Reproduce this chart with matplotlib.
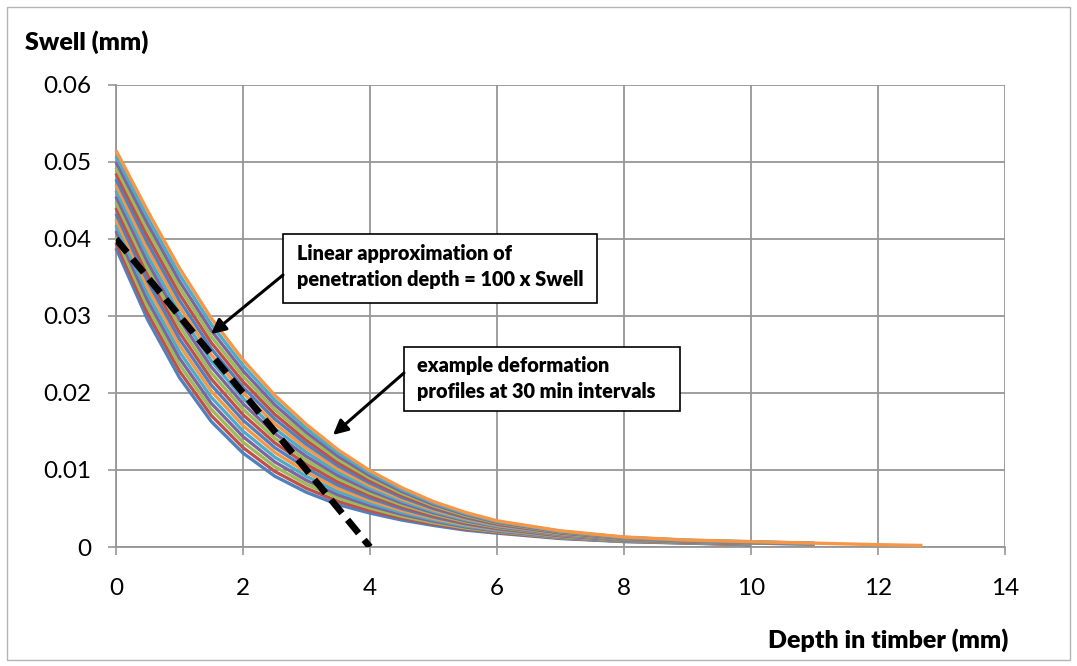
import matplotlib
matplotlib.use("Agg")
import matplotlib.pyplot as plt
from matplotlib.patches import Rectangle

plt.rcParams['font.family'] = ['Lato', 'DejaVu Sans']

# Depth below the surface (mm) at which each profile is sampled
depth = [0, 0.5, 1, 1.5, 2, 2.5, 3, 3.5, 4, 4.5, 5, 5.5, 6, 7, 8, 9, 10, 11, 12, 12.7]

# Swell profiles (mm), one every 30 min
swell_030 = [0.03880, 0.02950, 0.02200, 0.01630, 0.01220, 0.00920, 0.00710, 0.00550, 0.00440, 0.00350, 0.00280, 0.00220, 0.00180, 0.00110, 0.00070, 0.00050, 0.00030]
swell_060 = [0.03955, 0.03033, 0.02284, 0.01709, 0.01291, 0.00982, 0.00762, 0.00592, 0.00472, 0.00375, 0.00298, 0.00234, 0.00189, 0.00116, 0.00074, 0.00052, 0.00032]
swell_090 = [0.04029, 0.03116, 0.02367, 0.01788, 0.01362, 0.01044, 0.00814, 0.00634, 0.00505, 0.00399, 0.00316, 0.00247, 0.00199, 0.00122, 0.00077, 0.00055, 0.00035]
swell_120 = [0.04104, 0.03199, 0.02451, 0.01866, 0.01434, 0.01105, 0.00865, 0.00675, 0.00537, 0.00424, 0.00335, 0.00261, 0.00208, 0.00128, 0.00081, 0.00057, 0.00037]
swell_150 = [0.04179, 0.03282, 0.02534, 0.01945, 0.01505, 0.01167, 0.00917, 0.00717, 0.00570, 0.00449, 0.00353, 0.00274, 0.00218, 0.00134, 0.00084, 0.00059, 0.00039]
swell_180 = [0.04254, 0.03365, 0.02618, 0.02024, 0.01576, 0.01229, 0.00969, 0.00759, 0.00602, 0.00474, 0.00371, 0.00288, 0.00227, 0.00139, 0.00088, 0.00062, 0.00042]
swell_210 = [0.04328, 0.03447, 0.02701, 0.02103, 0.01647, 0.01291, 0.01021, 0.00801, 0.00634, 0.00498, 0.00389, 0.00301, 0.00236, 0.00145, 0.00091, 0.00064, 0.00044]
swell_240 = [0.04403, 0.03530, 0.02785, 0.02182, 0.01718, 0.01353, 0.01073, 0.00843, 0.00667, 0.00523, 0.00407, 0.00315, 0.00246, 0.00151, 0.00095, 0.00066, 0.00046]
swell_270 = [0.04478, 0.03613, 0.02868, 0.02260, 0.01790, 0.01414, 0.01124, 0.00884, 0.00699, 0.00548, 0.00426, 0.00328, 0.00255, 0.00157, 0.00098, 0.00069, 0.00049]
swell_300 = [0.04552, 0.03696, 0.02952, 0.02339, 0.01861, 0.01476, 0.01176, 0.00926, 0.00732, 0.00572, 0.00444, 0.00342, 0.00265, 0.00163, 0.00102, 0.00071, 0.00051, 0.00036]
swell_330 = [0.04627, 0.03779, 0.03035, 0.02418, 0.01932, 0.01538, 0.01228, 0.00968, 0.00764, 0.00597, 0.00462, 0.00355, 0.00274, 0.00169, 0.00105, 0.00074, 0.00054, 0.00038]
swell_360 = [0.04702, 0.03862, 0.03119, 0.02497, 0.02003, 0.01600, 0.01280, 0.01010, 0.00796, 0.00622, 0.00480, 0.00369, 0.00283, 0.00175, 0.00109, 0.00076, 0.00056, 0.00039]
swell_390 = [0.04776, 0.03945, 0.03202, 0.02576, 0.02074, 0.01662, 0.01332, 0.01052, 0.00829, 0.00646, 0.00498, 0.00382, 0.00293, 0.00181, 0.00112, 0.00078, 0.00058, 0.00041]
swell_420 = [0.04851, 0.04028, 0.03286, 0.02654, 0.02146, 0.01723, 0.01383, 0.01093, 0.00861, 0.00671, 0.00517, 0.00396, 0.00302, 0.00186, 0.00116, 0.00081, 0.00061, 0.00043]
swell_450 = [0.04926, 0.04111, 0.03369, 0.02733, 0.02217, 0.01785, 0.01435, 0.01135, 0.00894, 0.00696, 0.00535, 0.00409, 0.00312, 0.00192, 0.00119, 0.00083, 0.00063, 0.00045]
swell_480 = [0.05001, 0.04194, 0.03453, 0.02812, 0.02288, 0.01847, 0.01487, 0.01177, 0.00926, 0.00721, 0.00553, 0.00423, 0.00321, 0.00198, 0.00123, 0.00085, 0.00065, 0.00046]
swell_510 = [0.05075, 0.04276, 0.03536, 0.02891, 0.02359, 0.01909, 0.01539, 0.01219, 0.00958, 0.00745, 0.00571, 0.00436, 0.00331, 0.00204, 0.00126, 0.00088, 0.00068, 0.00048]
swell_540 = [0.05150, 0.04360, 0.03620, 0.02970, 0.02430, 0.01970, 0.01590, 0.01260, 0.00990, 0.00770, 0.00590, 0.00450, 0.00340, 0.00210, 0.00130, 0.00090, 0.00070, 0.00050, 0.00030, 0.00020]

profiles = [swell_030, swell_060, swell_090, swell_120, swell_150, swell_180,
            swell_210, swell_240, swell_270, swell_300, swell_330, swell_360,
            swell_390, swell_420, swell_450, swell_480, swell_510, swell_540]

# Linear approximation: penetration depth = 100 x swell
approx_depth = [0, 4]
approx_swell = [0.04, 0.0]

x_ticks = [0, 2, 4, 6, 8, 10, 12, 14]
y_ticks = [0, 0.01, 0.02, 0.03, 0.04, 0.05, 0.06]
y_tick_labels = ['0', '0.01', '0.02', '0.03', '0.04', '0.05', '0.06']

palette = ['#4F81BD', '#C0504D', '#9BBB59', '#8064A2', '#4BACC6', '#F79646']
grid_grey = '#969696'

fig = plt.figure(figsize=(10.77, 6.66), dpi=100)
fig.patches.append(Rectangle((7 / 1077, 6 / 666), 1063 / 1077, 653 / 666,
                             transform=fig.transFigure, fill=False,
                             edgecolor='#B4B4B4', linewidth=1.0))

ax = fig.add_axes([116 / 1077, 1 - 547 / 666, 889 / 1077, 462 / 666])

for i, prof in enumerate(profiles):
    ax.plot(depth[:len(prof)], prof, color=palette[i % len(palette)],
            linewidth=2.4, solid_capstyle='butt', zorder=3 + i * 0.01, clip_on=False)

ax.plot(approx_depth, approx_swell, color='black', linewidth=4.8,
        linestyle=(0, (2.6, 1.3)), dash_capstyle='butt', zorder=5)

ax.set_xlim(0, 14)
ax.set_ylim(0, 0.06)
ax.set_xticks(x_ticks)
ax.set_xticklabels([str(t) for t in x_ticks])
ax.set_yticks(y_ticks)
ax.set_yticklabels(y_tick_labels)

ax.grid(True, color=grid_grey, linewidth=1.3, zorder=0)
ax.set_axisbelow(True)
for side in ('top', 'right'):
    ax.spines[side].set_visible(False)
for side in ('left', 'bottom'):
    ax.spines[side].set_color(grid_grey)
    ax.spines[side].set_linewidth(1.3)

ax.tick_params(axis='both', colors=grid_grey, length=5.5, width=1.2,
               labelcolor='black', labelsize=17.5)
ax.tick_params(axis='y', pad=12)
ax.tick_params(axis='x', pad=17)

# Axis titles
fig.text(25 / 1077, 1 - 50 / 666, 'Swell (mm)', fontsize=18, fontweight='heavy',
         ha='left', va='baseline')
fig.text(1008 / 1077, 1 - 648 / 666, 'Depth in timber (mm)', fontsize=18,
         fontweight='heavy', ha='right', va='baseline')

# Annotation boxes
ax.add_patch(Rectangle((2.63, 0.03169), 4.94, 0.00896, facecolor='white',
                       edgecolor='black', linewidth=1.2, zorder=6))
ax.text(2.85, 0.03727, 'Linear approximation of', fontsize=14.3, fontweight='heavy',
        ha='left', va='baseline', zorder=7)
ax.text(2.85, 0.0339, 'penetration depth = 100 x Swell', fontsize=14.3,
        fontweight='heavy', ha='left', va='baseline', zorder=7)

ax.add_patch(Rectangle((4.535, 0.01766), 4.345, 0.00831, facecolor='white',
                       edgecolor='black', linewidth=1.2, zorder=6))
ax.text(4.74, 0.02273, 'example deformation', fontsize=14.3, fontweight='heavy',
        ha='left', va='baseline', zorder=7)
ax.text(4.74, 0.01935, 'profiles at 30 min intervals', fontsize=14.3,
        fontweight='heavy', ha='left', va='baseline', zorder=7)

arrow = dict(arrowstyle='-|>', color='black', linewidth=2.2, mutation_scale=22,
             shrinkA=0, shrinkB=0)
ax.annotate('', xy=(1.496, 0.02766), xytext=(2.63, 0.03532), arrowprops=arrow, zorder=8)
ax.annotate('', xy=(3.417, 0.01455), xytext=(4.535, 0.0226), arrowprops=arrow, zorder=8)

fig.savefig('out.png', dpi=100)
